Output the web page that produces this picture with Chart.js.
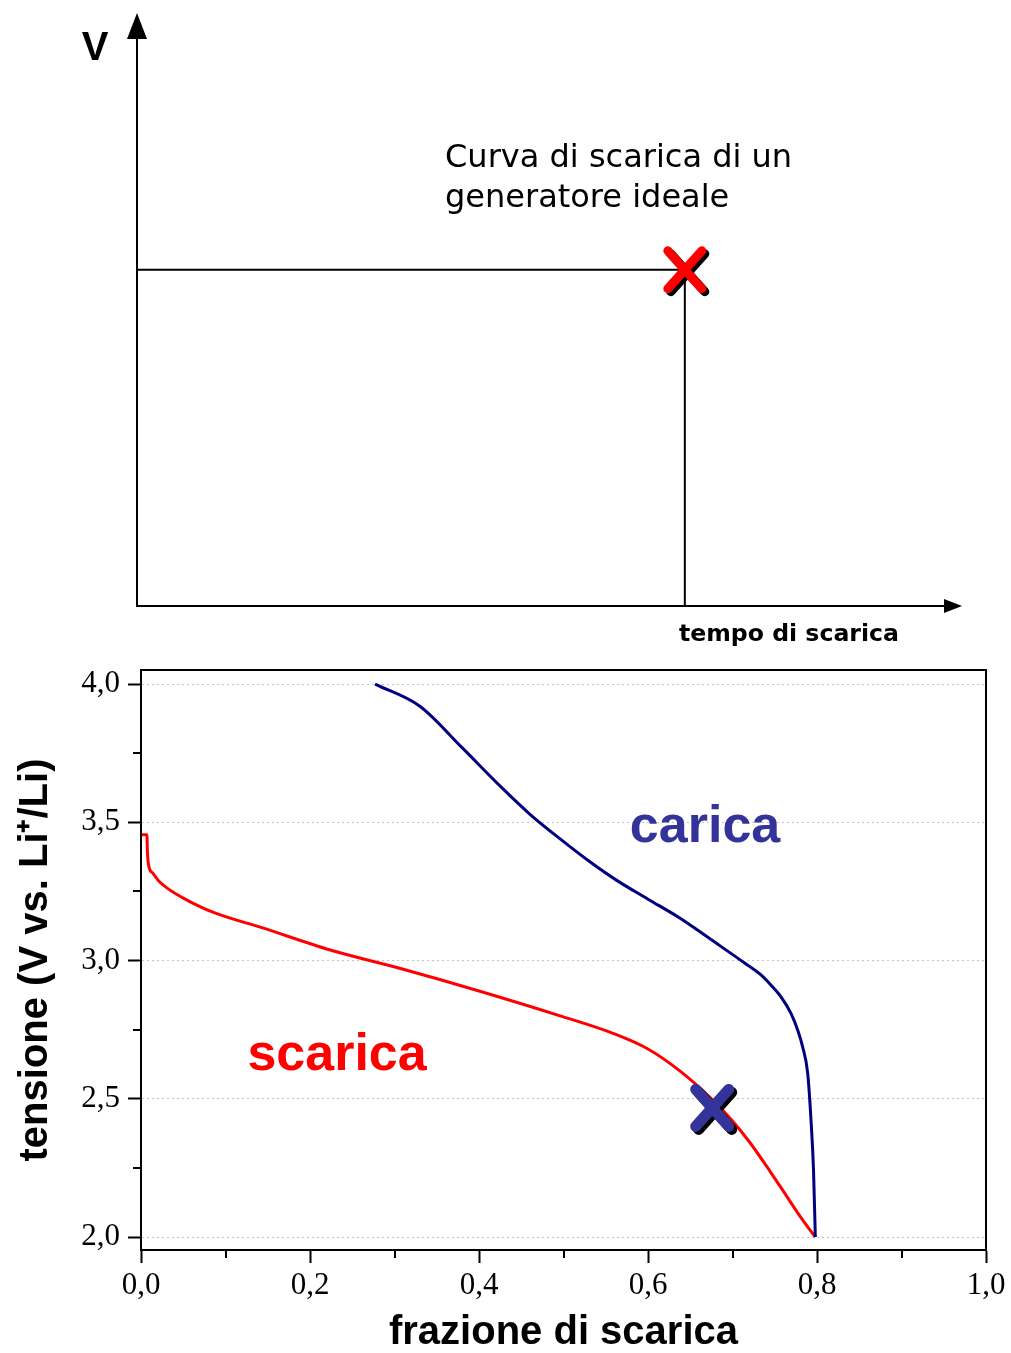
<!DOCTYPE html>
<html><head><meta charset="utf-8">
<script src="https://cdn.jsdelivr.net/npm/chart.js@4/dist/chart.umd.min.js"></script>
<style>
html,body{margin:0;padding:0;background:#fff;}
#wrap{position:relative;width:1011px;height:1353px;overflow:hidden;background:#fff;}
canvas{position:absolute;left:0;display:block;}
</style></head><body>
<div id="wrap">
<canvas id="topChart" width="1011" height="650" style="top:0"></canvas>
<canvas id="bottomChart" width="1011" height="703" style="top:650px"></canvas>
</div>
<script>
// ---------------- DATA ----------------
// Top: ideal generator (schematic, arbitrary units)
const idealTime    = [0, 0.678, 0.678];
const idealVoltage = [0.592, 0.592, 0];
const idealEnd     = [0.678, 0.592];
const topTexts = ['Curva di scarica di un', 'generatore ideale'];
const topAxisY = 'V';
const topAxisX = 'tempo di scarica';

// Bottom: real Li cell
const scaricaX = [0.001, 0.007, 0.0075, 0.009, 0.014, 0.021, 0.031, 0.050, 0.085, 0.144, 0.224, 0.306, 0.400, 0.496, 0.560, 0.600, 0.638, 0.673, 0.700, 0.721, 0.745, 0.764, 0.780, 0.795, 0.798];
const scaricaV = [3.455, 3.455, 3.40, 3.345, 3.316, 3.288, 3.262, 3.226, 3.175, 3.118, 3.038, 2.972, 2.890, 2.800, 2.735, 2.680, 2.600, 2.506, 2.420, 2.340, 2.235, 2.148, 2.075, 2.012, 2.000];
const caricaX  = [0.277, 0.330, 0.380, 0.426, 0.460, 0.496, 0.530, 0.563, 0.600, 0.638, 0.6615, 0.685, 0.7139, 0.7337, 0.7456, 0.7574, 0.7692, 0.7771, 0.7830, 0.7890, 0.7929, 0.7959, 0.798];
const caricaV  = [4.000, 3.920, 3.770, 3.628, 3.530, 3.440, 3.360, 3.290, 3.222, 3.153, 3.104, 3.054, 2.992, 2.948, 2.911, 2.869, 2.809, 2.749, 2.688, 2.592, 2.423, 2.240, 2.000];
const markerPoint = [0.676, 2.467];
const xTickValues  = [0, 0.2, 0.4, 0.6, 0.8, 1.0];
const xMinorValues = [0.1, 0.3, 0.5, 0.7, 0.9];
const yTickValues  = [2.0, 2.5, 3.0, 3.5, 4.0];
const yMinorValues = [2.25, 2.75, 3.25, 3.75];
const seriesNames = ['carica', 'scarica'];
const xTitle = 'frazione di scarica';
const yTitle = 'tensione (V vs. Li\u207A/Li)';

// ---------------- helpers ----------------
Chart.defaults.font.family = "'Liberation Sans', Arial, sans-serif";
Chart.defaults.color = '#000';
const pts = (xs, ys) => xs.map((x, i) => ({x, y: ys[i]}));
const fmt = v => Number(v).toFixed(1).replace('.', ',');

function drawX(ctx, cx, cy, hx, hy, w, color) {
  ctx.save();
  ctx.lineCap = 'round';
  ctx.lineWidth = w;
  [[3, 3, '#000'], [0, 0, color]].forEach(([dx, dy, c]) => {
    ctx.strokeStyle = c;
    ctx.beginPath();
    ctx.moveTo(cx - hx + dx, cy - hy + dy); ctx.lineTo(cx + hx + dx, cy + hy + dy);
    ctx.moveTo(cx + hx + dx, cy - hy + dy); ctx.lineTo(cx - hx + dx, cy + hy + dy);
    ctx.stroke();
  });
  ctx.restore();
}

// ---------------- TOP CHART ----------------
const topDecor = {
  id: 'topDecor',
  afterDraw(chart) {
    const {ctx, chartArea: a, scales: {x, y}} = chart;
    ctx.save();
    ctx.fillStyle = '#000';
    // arrows
    ctx.beginPath();
    ctx.moveTo(a.left, a.top - 25); ctx.lineTo(a.left - 10, a.top + 1); ctx.lineTo(a.left + 10, a.top + 1); ctx.closePath(); ctx.fill();
    ctx.beginPath();
    ctx.moveTo(a.right + 17, a.bottom); ctx.lineTo(a.right - 1, a.bottom - 7); ctx.lineTo(a.right - 1, a.bottom + 7); ctx.closePath(); ctx.fill();
    // texts
    ctx.textBaseline = 'alphabetic';
    ctx.textAlign = 'center';
    ctx.font = "bold 40px 'Liberation Sans'";
    ctx.fillText(topAxisY, a.left - 42, a.top + 22);
    ctx.textAlign = 'left';
    ctx.font = "32px 'DejaVu Sans'";
    ctx.fillStyle = '#000';
    ctx.fillText(topTexts[0], a.left + 308, a.top + 129);
    ctx.fillText(topTexts[1], a.left + 308, a.top + 169);
    ctx.font = "bold 23.6px 'DejaVu Sans'";
    ctx.fillText(topAxisX, a.left + 542, a.bottom + 35);
    // marker
    drawX(ctx, x.getPixelForValue(idealEnd[0]), y.getPixelForValue(idealEnd[1]), 17, 19, 9, '#ff0000');
    ctx.restore();
  }
};

new Chart(document.getElementById('topChart'), {
  type: 'line',
  data: {
    datasets: [{
      data: pts(idealTime, idealVoltage),
      borderColor: '#000', borderWidth: 2, pointRadius: 0, tension: 0, fill: false
    }]
  },
  options: {
    responsive: false, animation: false,
    layout: {padding: {left: 137, top: 38, right: 66, bottom: 44}},
    plugins: {legend: {display: false}, tooltip: {enabled: false}},
    scales: {
      x: {type: 'linear', min: 0, max: 1,
          ticks: {display: false}, grid: {display: false, drawTicks: false},
          border: {display: true, color: '#000', width: 2},
          afterFit: s => { s.height = 0; }},
      y: {type: 'linear', min: 0, max: 1,
          ticks: {display: false}, grid: {display: false, drawTicks: false},
          border: {display: true, color: '#000', width: 2},
          afterFit: s => { s.width = 0; }}
    }
  },
  plugins: [topDecor]
});

// ---------------- BOTTOM CHART ----------------
const labelPos = {carica: [0.6675, 3.429], scarica: [0.232, 2.604]};
const bottomDecor = {
  id: 'bottomDecor',
  afterDatasetsDraw(chart) {
    const {ctx, scales: {x, y}} = chart;
    ctx.save();
    ctx.textAlign = 'center';
    ctx.textBaseline = 'alphabetic';
    ctx.font = "bold 52px 'Liberation Sans'";
    ctx.fillStyle = '#333399';
    ctx.fillText(seriesNames[0], x.getPixelForValue(labelPos.carica[0]), y.getPixelForValue(labelPos.carica[1]));
    ctx.fillStyle = '#ff0000';
    ctx.fillText(seriesNames[1], x.getPixelForValue(labelPos.scarica[0]), y.getPixelForValue(labelPos.scarica[1]));
    drawX(ctx, x.getPixelForValue(markerPoint[0]), y.getPixelForValue(markerPoint[1]), 16.5, 18.5, 11, '#333399');
    ctx.restore();
  },
  afterDraw(chart) {
    const {ctx, chartArea: a, scales: {x, y}} = chart;
    ctx.save();
    ctx.strokeStyle = '#000';
    ctx.lineWidth = 2;
    ctx.beginPath();
    ctx.moveTo(a.left, a.top); ctx.lineTo(a.right, a.top); ctx.lineTo(a.right, a.bottom);
    ctx.stroke();
    ctx.beginPath();
    xMinorValues.forEach(v => { const p = Math.round(x.getPixelForValue(v)); ctx.moveTo(p, a.bottom); ctx.lineTo(p, a.bottom + 8); });
    yMinorValues.forEach(v => { const p = Math.round(y.getPixelForValue(v)); ctx.moveTo(a.left - 8, p); ctx.lineTo(a.left, p); });
    ctx.stroke();
    ctx.restore();
  }
};

new Chart(document.getElementById('bottomChart'), {
  type: 'line',
  data: {
    datasets: [
      {label: seriesNames[0], data: pts(caricaX, caricaV), borderColor: '#000080', borderWidth: 3, pointRadius: 0, cubicInterpolationMode: 'monotone', fill: false},
      {label: seriesNames[1], data: pts(scaricaX, scaricaV), borderColor: '#ff0000', borderWidth: 3, pointRadius: 0, cubicInterpolationMode: 'monotone', fill: false}
    ]
  },
  options: {
    responsive: false, animation: false,
    layout: {padding: {left: 0, top: 20, right: 25, bottom: 0}},
    plugins: {legend: {display: false}, tooltip: {enabled: false}},
    scales: {
      x: {type: 'linear', min: 0, max: 1,
          afterBuildTicks: s => { s.ticks = xTickValues.map(v => ({value: v})); },
          ticks: {callback: v => fmt(v), font: {family: "'Liberation Serif'", size: 31}, color: '#000', padding: 4, maxRotation: 0, autoSkip: false},
          grid: {display: true, drawOnChartArea: false, drawTicks: true, tickLength: 13, tickWidth: 2, tickColor: '#000'},
          border: {display: true, color: '#000', width: 2},
          title: {display: true, text: xTitle, font: {size: 40, weight: 'bold', lineHeight: 1}, color: '#000', padding: {top: 0, bottom: 0}},
          afterFit: s => { s.height = 103; s.paddingLeft = 0; s.paddingRight = 0; }},
      y: {type: 'linear', min: 1.953, max: 4.051,
          afterBuildTicks: s => { s.ticks = yTickValues.map(v => ({value: v})); },
          ticks: {callback: v => fmt(v), font: {family: "'Liberation Serif'", size: 31, lineHeight: 0.8}, color: '#000', padding: 8, autoSkip: false},
          grid: {display: true, drawOnChartArea: true, color: '#c4c4c4', lineWidth: 1, drawTicks: true, tickLength: 13, tickWidth: 2, tickColor: '#000'},
          border: {display: true, color: '#000', width: 2, dash: [2, 3]},
          title: {display: true, text: yTitle, font: {size: 40, weight: 'bold', lineHeight: 1}, color: '#000', padding: {top: 16, bottom: 0}},
          afterFit: s => { s.width = 141; s.paddingTop = 0; s.paddingBottom = 0; }}
    }
  },
  plugins: [bottomDecor]
});
</script>
</body></html>
